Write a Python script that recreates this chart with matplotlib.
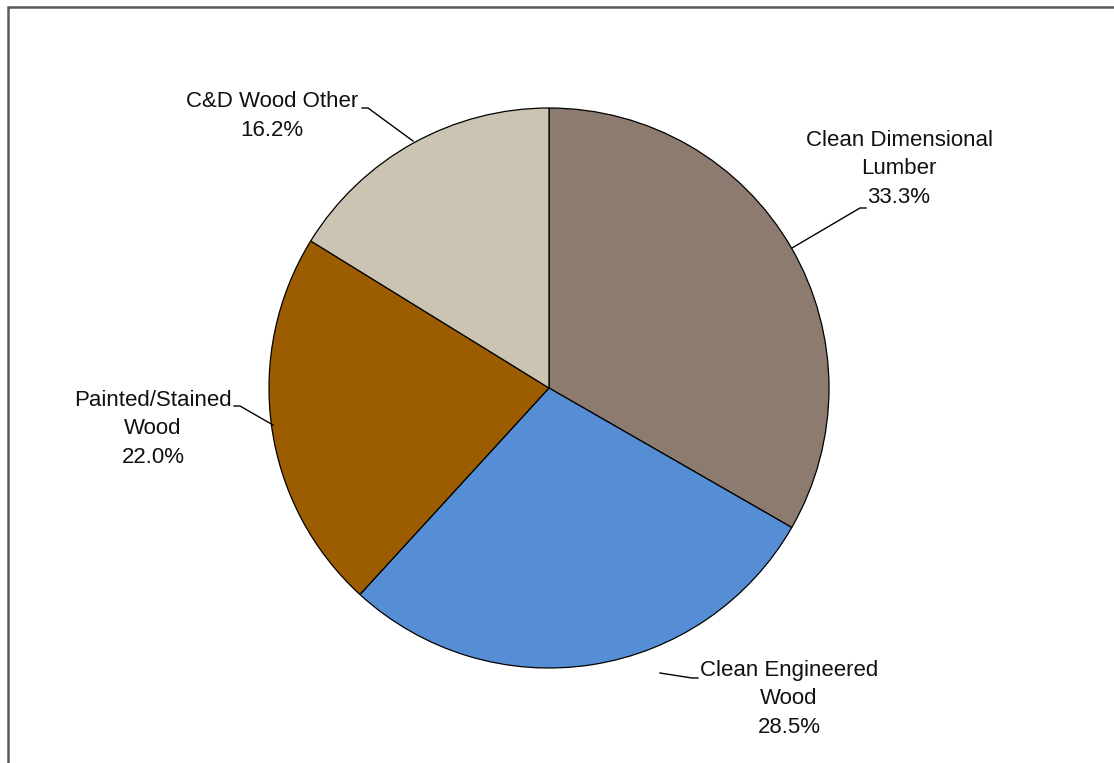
import matplotlib
matplotlib.use("Agg")
import matplotlib.pyplot as plt
from matplotlib import font_manager

# Wood composition shares (percent)
categories = ["Clean Dimensional\nLumber", "Clean Engineered\nWood",
              "Painted/Stained\nWood", "C&D Wood Other"]
shares = [33.3, 28.5, 22.0, 16.2]
colors = ["#8C7B6E", "#558ED5", "#9C5D00", "#CBC4B3"]

available = {f.name for f in font_manager.fontManager.ttflist}
family = "Liberation Sans Narrow" if "Liberation Sans Narrow" in available else "Liberation Sans"
plt.rcParams["font.family"] = [family, "DejaVu Sans"]

W, H = 1114, 763
fig = plt.figure(figsize=(W / 100, H / 100), dpi=100)
ax = fig.add_axes([0, 0, 1, 1])
ax.set_xlim(0, W)
ax.set_ylim(0, H)
ax.set_aspect("equal")
ax.axis("off")


def py(y):
    # pixel row (from top) to axis y
    return H - y


cx, cy, r = 549, 388, 280
ax.pie(shares, colors=colors, startangle=90, counterclock=False,
       center=(cx, py(cy)), radius=r,
       wedgeprops=dict(edgecolor="black", linewidth=0.9))
ax.set_xlim(0, W)
ax.set_ylim(0, H)

# Outer frame: only the left and top edges fall inside the canvas
ax.plot([8, 8, W + 5], [py(H + 5), py(7), py(7)], color="#5a5a5a",
        linewidth=1.8, solid_joinstyle="miter", zorder=5)

fs = 16
labels = [f"{c}\n{s:.1f}%" for c, s in zip(categories, shares)]
label_pos = [(899, 169), (789, 699), (153, 429), (272, 116)]
for text, (x, y) in zip(labels, label_pos):
    ax.text(x, py(y), text, ha="center", va="center", fontsize=fs,
            linespacing=1.45, color="#111111")

# Leader lines from label to wedge
leaders = [
    [(866, 208), (860, 208), (792, 248)],
    [(698, 678), (692, 678), (660, 673)],
    [(234, 406), (240, 406), (273, 425)],
    [(362, 108), (368, 108), (413, 141)],
]
for pts in leaders:
    xs = [p[0] for p in pts]
    ys = [py(p[1]) for p in pts]
    ax.plot(xs, ys, color="black", linewidth=1.0)

fig.savefig("out.png", dpi=100)
